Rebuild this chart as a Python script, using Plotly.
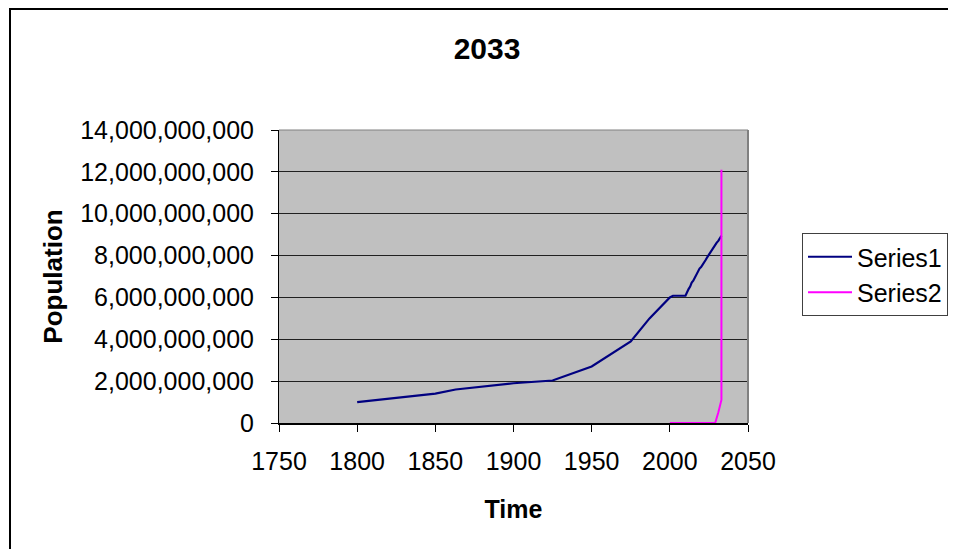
import plotly.graph_objects as go

# Series1 data (population)
s1_years = [1800, 1825, 1850, 1863, 1900, 1925, 1937, 1950, 1975, 1987, 2000, 2002,
            2010, 2011, 2012, 2013, 2014, 2015, 2016, 2017, 2018, 2019, 2020, 2021,
            2022, 2023, 2024, 2025, 2026, 2027, 2028, 2029, 2030, 2031, 2032, 2033]
s1_pop = [1.0e9, 1.2e9, 1.4e9, 1.6e9, 1.9e9, 2.03e9, 2.35e9, 2.7e9, 3.9e9, 5.0e9, 6.0e9, 6.08e9,
          6.08e9, 6.27e9, 6.40e9, 6.52e9, 6.71e9, 6.80e9, 6.95e9, 7.12e9, 7.22e9, 7.38e9, 7.45e9, 7.55e9,
          7.70e9, 7.80e9, 7.93e9, 8.05e9, 8.15e9, 8.30e9, 8.40e9, 8.52e9, 8.62e9, 8.70e9, 8.82e9, 8.95e9]

# Series2 data
s2_years = [2000, 2029, 2031, 2033, 2033]
s2_pop = [0, 0, 0.5e9, 1.1e9, 12.1e9]

title_text = "2033"
x_title = "Time"
y_title = "Population"

FONT = "Liberation Sans, Arial, sans-serif"

fig = go.Figure()
fig.add_trace(go.Scatter(x=s1_years, y=s1_pop, mode="lines", name="Series1",
                         line=dict(color="#000080", width=2.2)))
fig.add_trace(go.Scatter(x=s2_years, y=s2_pop, mode="lines", name="Series2",
                         line=dict(color="#FF00FF", width=2)))

OFF = 8  # page body margin
W, H = 948, 541
L, R, T, B = 271, 208, 122, 126
pw = W - L - R
ph = H - T - B

def px_x(p):  # screen pixel -> paper x
    return (p - OFF - L) / pw

def px_y(p):  # screen pixel -> paper y
    return (H - B - (p - OFF)) / ph

fig.update_layout(
    width=W, height=H,
    margin=dict(l=L, r=R, t=T, b=B, autoexpand=False),
    paper_bgcolor="white",
    plot_bgcolor="#C0C0C0",
    font=dict(family=FONT, color="black", size=25),
    title=dict(text="<b>" + title_text + "</b>", x=px_x(487), xref="paper", xanchor="center",
               y=1 - (48 - OFF) / H, yanchor="middle", font=dict(size=30, family=FONT)),
    showlegend=True,
    legend=dict(x=(802 - OFF) / W, y=(H - (233 - OFF)) / H, xref="container", yref="container",
                xanchor="left", yanchor="top",
                bgcolor="white", bordercolor="#404040", borderwidth=1,
                font=dict(size=25, family=FONT), itemwidth=44, tracegroupgap=0),
    xaxis=dict(range=[1750, 2050], dtick=50, tick0=1750, showgrid=False,
               zeroline=False, showline=True, linecolor="black", linewidth=2,
               ticks="outside", ticklen=7, tickcolor="black", tickwidth=1,
               ticklabelstandoff=8,
               title=dict(text="<b>" + x_title + "</b>", font=dict(size=25), standoff=26),
               mirror=False),
    yaxis=dict(range=[0, 14e9], dtick=2e9, tickformat=",d", showgrid=True,
               gridcolor="#202020", gridwidth=1, zeroline=False,
               showline=True, linecolor="black", linewidth=1,
               ticks="outside", ticklen=7, tickcolor="black", tickwidth=1,
               ticklabelstandoff=12,
               title=dict(text="<b>" + y_title + "</b>", font=dict(size=26), standoff=10)),
)

# plot area right/top gray border
fig.add_shape(type="line", xref="paper", yref="paper", x0=1, x1=1, y0=0, y1=1,
              line=dict(color="#808080", width=2))
fig.add_shape(type="line", xref="paper", yref="paper", x0=0, x1=1, y0=1, y1=1,
              line=dict(color="#808080", width=1))
# outer chart border: top and left edges (rest lies beyond the visible area)
fig.add_shape(type="line", xref="paper", yref="paper",
              x0=px_x(9), x1=px_x(1000), y0=px_y(9), y1=px_y(9),
              line=dict(color="black", width=2), layer="above")
fig.add_shape(type="line", xref="paper", yref="paper",
              x0=px_x(10), x1=px_x(10), y0=px_y(8), y1=px_y(700),
              line=dict(color="black", width=2), layer="above")

fig.write_html("out.html")
